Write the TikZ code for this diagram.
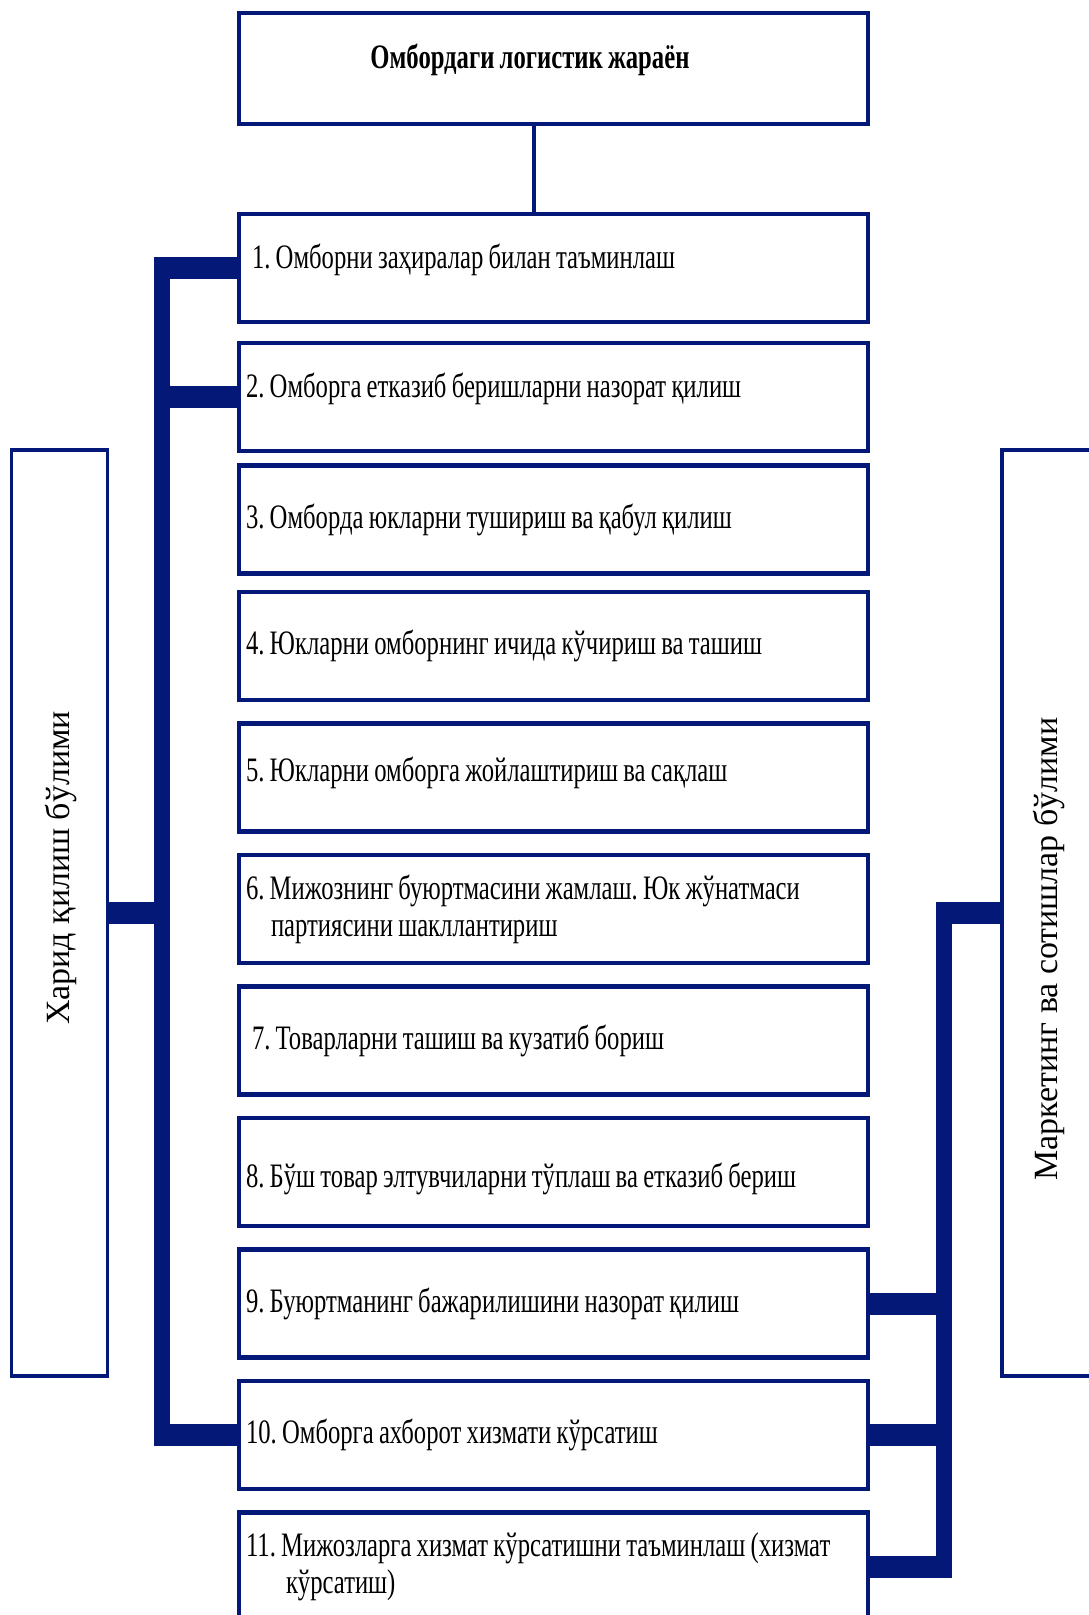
\documentclass[tikz,border=0pt]{standalone}
\usepackage{fontspec}
\setmainfont{Liberation Serif}
\newfontfamily\narrowserif{Liberation Serif}[FakeStretch=0.72, WordSpace=0.85]
\usepackage{tikz}
\usetikzlibrary{positioning, calc}
\definecolor{busnavy}{RGB}{4,24,120}
\frenchspacing
\tikzset{
  headbox/.style={
    rectangle, draw=busnavy, line width=0.09cm, outer sep=0pt,
    minimum width=12.58cm, minimum height=2.22cm
  },
  stepbox/.style={
    rectangle, draw=busnavy, line width=0.09cm, outer sep=0pt,
    minimum width=12.58cm, minimum height=2.16cm,
    text width=12.30cm, inner xsep=0.14cm, align=left,
    font=\narrowserif\fontsize{19.5}{21}\selectfont,
    execute at begin node={\spaceskip=0pt\xspaceskip=0pt}
  },
  deptbox/.style={
    rectangle, draw=busnavy, line width=0.065cm, outer sep=0pt,
    minimum width=1.92cm, minimum height=18.52cm
  },
  deptlabel/.style={rotate=90, font=\fontsize{19.3}{21}\selectfont},
  link/.style={draw=busnavy, line width=0.07cm},
  bus/.style={draw=busnavy, line width=0.32cm},
  stub/.style={draw=busnavy, line width=0.44cm},
}
\begin{document}
\begin{tikzpicture}[node distance=0.47cm]
  \useasboundingbox (0,0) rectangle (21.76,-32.30);

  % main process
  \node (head) [headbox] at (11.07,-1.37) {};
  \node (title) [font=\narrowserif\bfseries\fontsize{19.5}{21}\selectfont]
    at ([shift={(-0.47,0.17)}]head.center) {Омбордаги логистик жараён};

  \node (s1)  [stepbox, text depth=0.48cm, below=1.8cm of head] {\hspace*{0.12cm}1. Омборни заҳиралар билан таъминлаш};
  \node (s2)  [stepbox, text depth=0.48cm, below=0.42cm of s1]  {2. Омборга етказиб беришларни назорат қилиш};
  \node (s3)  [stepbox, below=0.29cm of s2]    {3. Омборда юкларни тушириш ва қабул қилиш};
  \node (s4)  [stepbox, below=0.37cm of s3]    {4. Юкларни омборнинг ичида кўчириш ва ташиш};
  \node (s5)  [stepbox, text depth=0.35cm, below=of s4] {5. Юкларни омборга жойлаштириш ва сақлаш};
  \node (s6)  [stepbox, below=of s5]  {6. Мижознинг буюртмасини жамлаш. Юк жўнатмаси\\
                                        \hspace*{0.5cm}партиясини шакллантириш};
  \node (s7)  [stepbox, below=of s6]  {\hspace*{0.12cm}7. Товарларни ташиш ва кузатиб бориш};
  \node (s8)  [stepbox, text height=0.75cm, below=of s7] {8. Бўш товар элтувчиларни тўплаш ва етказиб бериш};
  \node (s9)  [stepbox, below=of s8]  {9. Буюртманинг бажарилишини назорат қилиш};
  \node (s10) [stepbox, below=of s9]  {10. Омборга ахборот хизмати кўрсатиш};
  \node (s11) [stepbox, below=of s10] {11. Мижозларга хизмат кўрсатишни таъминлаш (хизмат\\
                                        \hspace*{0.8cm}кўрсатиш)};

  % departments
  \node (purch)  [deptbox] at (1.19,-18.26) {};
  \node (purchtext) [deptlabel] at (1.22,-17.36) {Харид қилиш бўлими};
  \node (market) [deptbox] at (21.00,-18.26) {};
  \node (markettext) [deptlabel] at (20.98,-18.98) {Маркетинг ва сотишлар бўлими};

  \coordinate (lbus) at (3.24,0);
  \coordinate (lbusedge) at (3.08,0);
  \coordinate (rbus) at (18.88,0);
  \coordinate (rbusedge) at (19.04,0);
  \coordinate (rbusedgein) at (18.72,0);

  \draw [link] ([xshift=-0.39cm]head.south) -- ([xshift=-0.39cm]s1.north);

  % purchasing side
  \draw [bus, shorten <=-0.22cm, shorten >=-0.22cm] (s1.west -| lbus) -- (s10.west -| lbus);
  \draw [stub] (s1.west)    -- (s1.west -| lbusedge);
  \draw [stub] (s2.west)    -- (s2.west -| lbusedge);
  \draw [stub] (s10.west)   -- (s10.west -| lbusedge);
  \draw [stub] (purch.east) -- (purch.east -| lbus);

  % marketing side
  \draw [bus, shorten <=-0.22cm, shorten >=-0.22cm] (market.west -| rbus) -- (s11.east -| rbus);
  \draw [stub] (market.west) -- (market.west -| rbusedgein);
  \draw [stub] (s9.east)  -- (s9.east -| rbusedge);
  \draw [stub] (s10.east) -- (s10.east -| rbusedge);
  \draw [stub] (s11.east) -- (s11.east -| rbusedge);
\end{tikzpicture}
\end{document}
